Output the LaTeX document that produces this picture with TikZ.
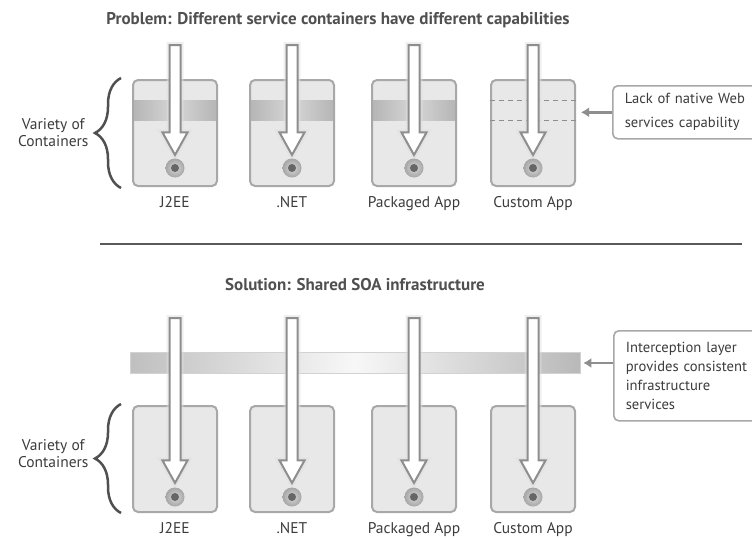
\documentclass[tikz,border=0pt]{standalone}
\usepackage{fontspec}
\setmainfont{PT Sans}
\usetikzlibrary{arrows.meta,positioning,shapes.arrows,decorations.pathreplacing}
\definecolor{boxfill}{HTML}{E8E8E8}
\definecolor{boxline}{HTML}{A8A8A8}
\definecolor{arrowline}{HTML}{8E8E8E}
\definecolor{bandgray}{HTML}{B6B6B6}
\definecolor{bandlight}{HTML}{D6D6D6}
\definecolor{textgray}{HTML}{3C3C3C}
\definecolor{headgray}{HTML}{505050}
\definecolor{braceline}{HTML}{505050}
\tikzset{
  heading/.style={font=\bfseries\fontsize{17}{19}\selectfont,text=headgray},
  capbox/.style={draw=boxline,fill=boxfill,line width=2pt,rounded corners=5pt,minimum width=84pt,minimum height=106pt,inner sep=0pt},
  wsband/.style={left color=bandgray,right color=bandgray,middle color=bandlight,minimum width=82pt,minimum height=20pt,inner sep=0pt},
  missband/.style={draw=arrowline,line width=1pt,dash pattern=on 5pt off 4pt},
  sharedband/.style={draw=gray!35,line width=0.6pt,left color=gray!50,right color=gray!55,middle color=gray!6,minimum width=450pt,minimum height=21pt,inner sep=0pt},
  flowarrow/.style={single arrow,draw=arrowline,fill=white,line width=2pt,rotate=-90,anchor=tail,inner sep=4.5pt,
    single arrow head extend=7pt,single arrow tip angle=58,preaction={draw=gray!25,line width=6pt,opacity=0.5}},
  endpoint/.style={circle,inner sep=0pt,minimum size=19pt,inner color=gray!30,outer color=gray!70,
    path picture={\fill[gray!80!black] (path picture bounding box.center) circle (4pt);}},
  boxlabel/.style={text=textgray,font=\fontsize{15.5}{17}\selectfont},
  noteBox/.style={draw=boxline,line width=1.6pt,rounded corners=5pt,fill=white,align=left,anchor=north west,
    inner xsep=12pt,text=textgray,text width=160pt},
  noteArrow/.style={-{Latex[length=8pt,width=10pt]},line width=2.5pt,draw=arrowline},
  groupBrace/.style={decorate,decoration={brace,amplitude=26pt},line width=2.5pt,draw=braceline},
  divider/.style={line width=2pt,draw=gray!70!black}
}
\begin{document}
\begin{tikzpicture}[x=1pt,y=-1pt]
  \useasboundingbox (0,0) rectangle (752,538);
  \clip (0,0) rectangle (752,538);

  % problem
  \node[heading] (probHead) at (338,20) {Problem: Different service containers have different capabilities};

  \node[capbox] (j2eeT) at (175,133) {};
  \node[capbox] (netT) at (292,133) {};
  \node[capbox] (pkgT) at (414,133) {};
  \node[capbox] (custT) at (533,133) {};
  \node[wsband] (bandJ) at (175,110) {};
  \node[wsband] (bandN) at (292,110) {};
  \node[wsband] (bandP) at (414,110) {};
  \draw[missband] ([yshift=33pt]custT.west) -- ([yshift=33pt]custT.east)
                  ([yshift=13pt]custT.west) -- ([yshift=13pt]custT.east);

  \node[flowarrow,minimum height=110pt] (inJT) at (175,44) {};
  \node[flowarrow,minimum height=110pt] (inNT) at (292,44) {};
  \node[flowarrow,minimum height=110pt] (inPT) at (414,44) {};
  \node[flowarrow,minimum height=110pt] (inCT) at (533,44) {};
  \node[endpoint] (epJT) at (175,168) {};
  \node[endpoint] (epNT) at (292,168) {};
  \node[endpoint] (epPT) at (414,168) {};
  \node[endpoint] (epCT) at (533,168) {};

  \node[boxlabel,below=6pt of j2eeT] {J2EE};
  \node[boxlabel,below=6pt of netT] {.NET};
  \node[boxlabel,below=6pt of pkgT] {Packaged App};
  \node[boxlabel,below=6pt of custT] {Custom App};

  \draw[groupBrace] (121,188) -- (121,78);
  \node[boxlabel,align=center,anchor=east] (varT) at (92,133) {Variety of\\Containers};

  \node[noteBox,minimum width=160pt,minimum height=53pt,font=\fontsize{14.6}{24}\selectfont] (lackNote) at (612,85)
    {Lack of native Web\\services capability};
  \draw[noteArrow,shorten >=5pt] (lackNote.west) -- (lackNote.west -| custT.east);

  \draw[divider] (100,244) -- (742,244);

  % solution
  \node[heading] (solHead) at (355,285) {Solution: Shared SOA infrastructure};

  \node[sharedband] (shared) at (355,363) {};
  \node[capbox] (j2eeB) at (175,459) {};
  \node[capbox] (netB) at (292,459) {};
  \node[capbox] (pkgB) at (414,459) {};
  \node[capbox] (custB) at (533,459) {};

  \node[flowarrow,minimum height=165pt] (inJB) at (175,317) {};
  \node[flowarrow,minimum height=165pt] (inNB) at (292,317) {};
  \node[flowarrow,minimum height=165pt] (inPB) at (414,317) {};
  \node[flowarrow,minimum height=165pt] (inCB) at (533,317) {};
  \node[endpoint] (epJB) at (175,497) {};
  \node[endpoint] (epNB) at (292,497) {};
  \node[endpoint] (epPB) at (414,497) {};
  \node[endpoint] (epCB) at (533,497) {};

  \node[boxlabel,below=6pt of j2eeB] {J2EE};
  \node[boxlabel,below=6pt of netB] {.NET};
  \node[boxlabel,below=6pt of pkgB] {Packaged App};
  \node[boxlabel,below=6pt of custB] {Custom App};

  \draw[groupBrace] (121,513) -- (121,404);
  \node[boxlabel,align=center,anchor=east] (varB) at (92,454) {Variety of\\Containers};

  \node[noteBox,minimum width=160pt,minimum height=90pt,font=\fontsize{14.6}{19}\selectfont] (sharedNote) at (613,330)
    {Interception layer\\provides consistent\\infrastructure\\services};
  \draw[noteArrow,shorten >=3pt] (sharedNote.west |- shared.east) -- (shared.east);
\end{tikzpicture}
\end{document}
